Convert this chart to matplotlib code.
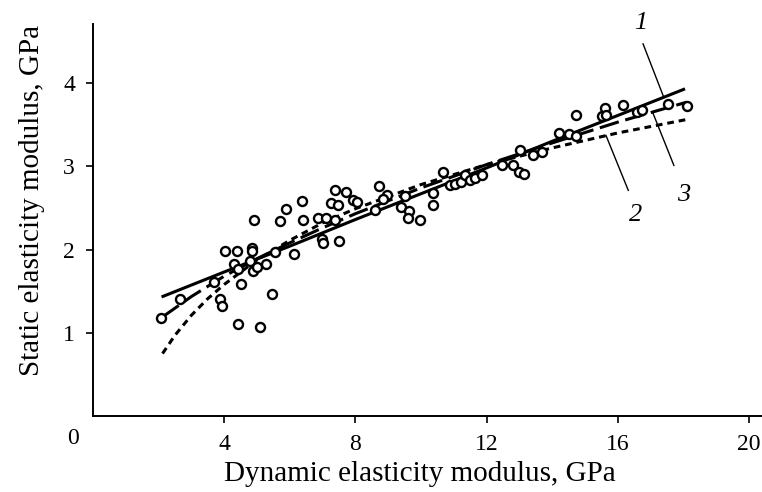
import matplotlib
matplotlib.use("Agg")
import matplotlib.pyplot as plt

plt.rcParams['font.family'] = ['Liberation Serif', 'DejaVu Serif']

# measured points (dynamic modulus, static modulus), GPa
dyn = [2.06, 2.65, 3.69, 3.87, 3.92, 4.02, 4.38, 4.31, 4.41, 4.51, 4.43, 4.79, 4.84, 4.84,
       4.89, 4.99, 4.92, 5.09, 5.27, 5.47, 5.55, 5.70, 5.88, 6.14, 6.36, 6.41, 6.87, 7.09,
       7.38, 6.97, 7.02, 7.51, 7.38, 7.71, 7.25, 7.48, 7.94, 8.06, 8.60, 8.72, 8.95, 8.85,
       9.51, 9.38, 9.64, 9.61, 9.97, 10.38, 10.38, 10.68, 10.88, 11.05, 11.22, 11.34, 11.49,
       11.65, 11.85, 12.46, 12.81, 13.02, 12.99, 13.14, 13.42, 13.68, 14.22, 14.51, 14.72,
       14.73, 15.51, 15.61, 15.64, 16.17, 16.60, 16.73, 17.54, 18.10]
stat = [1.18, 1.41, 1.61, 1.41, 1.32, 1.98, 1.98, 1.83, 1.76, 1.59, 1.11, 1.86, 2.02, 1.98,
        1.74, 1.79, 2.35, 1.07, 1.82, 1.47, 1.97, 2.34, 2.49, 1.94, 2.58, 2.35, 2.38, 2.38,
        2.35, 2.13, 2.08, 2.10, 2.72, 2.69, 2.56, 2.54, 2.60, 2.57, 2.48, 2.76, 2.65, 2.61,
        2.64, 2.51, 2.46, 2.38, 2.35, 2.68, 2.53, 2.93, 2.77, 2.79, 2.81, 2.90, 2.83,
        2.86, 2.89, 3.01, 3.01, 3.20, 2.93, 2.91, 3.14, 3.17, 3.40, 3.39, 3.36,
        3.61, 3.60, 3.70, 3.61, 3.73, 3.65, 3.67, 3.75, 3.72]

# curve 1 (solid)
c1_x = [2.09, 4, 6, 8, 10, 12, 14, 16, 18.05]
c1_y = [1.43, 1.73, 2.04, 2.36, 2.67, 2.98, 3.30, 3.61, 3.93]
# curve 2 (short dash)
c2_x = [2.12, 2.5, 3, 3.5, 4, 5, 6, 7, 8, 10, 12, 14, 16, 18.08]
c2_y = [0.75, 0.97, 1.21, 1.41, 1.58, 1.875, 2.11, 2.32, 2.49, 2.78, 3.02, 3.22, 3.40, 3.56]
# curve 3 (long dash)
c3_x = [2.12, 3, 4, 5, 6, 7, 8, 10, 12, 14, 16, 18.1]
c3_y = [1.19, 1.435, 1.68, 1.89, 2.08, 2.26, 2.43, 2.74, 3.02, 3.28, 3.53, 3.77]

x_ticks = [4, 8, 12, 16, 20]
y_ticks = [1, 2, 3, 4]

fig = plt.figure(figsize=(7.62, 4.92), dpi=100)
ax = fig.add_axes([93/762, 76/492, (762-93)/762, (416-24)/492])
ax.set_xlim(0, (762-93)/32.8)
ax.set_ylim(0, (416-24)/83.25)

ax.plot(c1_x, c1_y, color='black', lw=2.2, solid_capstyle='butt', zorder=3)
ax.plot(c2_x, c2_y, color='black', lw=2.2, dashes=(2.2, 1.6), zorder=3)
ax.plot(c3_x, c3_y, color='black', lw=2.2, dashes=(6.5, 2.2), zorder=3)
ax.plot(dyn, stat, 'o', mfc='white', mec='black', mew=1.7, ms=6.5, zorder=4, linestyle='none')

# leader lines and labels
ax.plot([16.77, 17.39], [4.47, 3.84], color='black', lw=1.0)
ax.plot([17.71, 17.06], [3.01, 3.65], color='black', lw=1.0)
ax.plot([16.32, 15.64], [2.71, 3.37], color='black', lw=1.0)
ax.text(16.7, 4.72, '1', style='italic', fontsize=19, ha='center', va='center')
ax.text(18.0, 2.66, '3', style='italic', fontsize=19, ha='center', va='center')
ax.text(16.55, 2.42, '2', style='italic', fontsize=19, ha='center', va='center')

for s in ['top', 'right']:
    ax.spines[s].set_visible(False)
for s in ['left', 'bottom']:
    ax.spines[s].set_linewidth(1.4)
ax.set_xticks(x_ticks)
ax.set_yticks(y_ticks)
ax.tick_params(direction='out', length=5, width=1.2, labelsize=17, pad=8)
ax.text(-0.6, -0.27, '0', fontsize=17, ha='center', va='center', clip_on=False)

ax.set_xlabel('Dynamic elasticity modulus, GPa', fontsize=21)
ax.set_ylabel('Static elasticity modulus, GPa', fontsize=21)
ax.xaxis.set_label_coords(0.489, -0.114)
ax.yaxis.set_label_coords(-0.072, 0.55)

fig.savefig('out.png', dpi=100)
